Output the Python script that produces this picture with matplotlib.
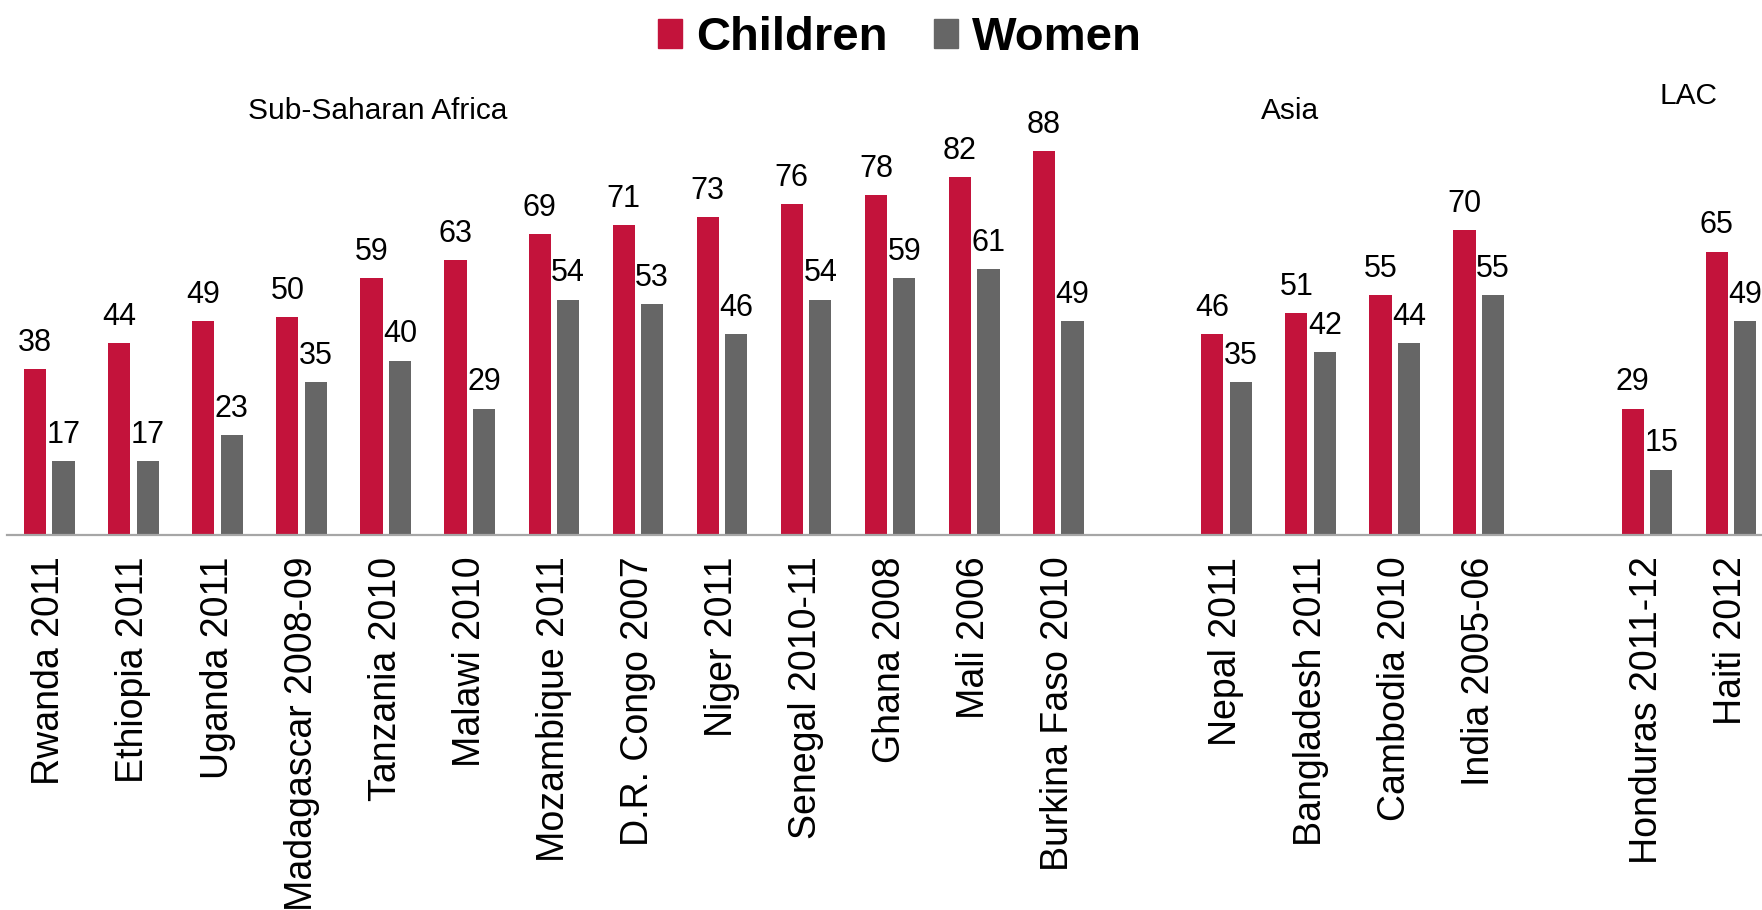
import matplotlib
matplotlib.use("Agg")
import matplotlib.pyplot as plt
from matplotlib.patches import Patch

plt.rcParams['font.family'] = ['Liberation Sans', 'DejaVu Sans']

# ---- data ----
regions = ["Sub-Saharan Africa", "Asia", "LAC"]
countries_ssa = ["Rwanda 2011", "Ethiopia 2011", "Uganda 2011", "Madagascar 2008-09",
                 "Tanzania 2010", "Malawi 2010", "Mozambique 2011", "D.R. Congo 2007",
                 "Niger 2011", "Senegal 2010-11", "Ghana 2008", "Mali 2006",
                 "Burkina Faso 2010"]
countries_asia = ["Nepal 2011", "Bangladesh 2011", "Cambodia 2010", "India 2005-06"]
countries_lac = ["Honduras 2011-12", "Haiti 2012"]

children_ssa = [38, 44, 49, 50, 59, 63, 69, 71, 73, 76, 78, 82, 88]
women_ssa = [17, 17, 23, 35, 40, 29, 54, 53, 46, 54, 59, 61, 49]
children_asia = [46, 51, 55, 70]
women_asia = [35, 42, 44, 55]
children_lac = [29, 65]
women_lac = [15, 49]

series_names = ["Children", "Women"]

# ---- layout ----
C_RED = "#C3133B"
C_GRAY = "#666666"

groups = [(countries_ssa, children_ssa, women_ssa),
          (countries_asia, children_asia, women_asia),
          (countries_lac, children_lac, women_lac)]

positions, labels, child_vals, women_vals = [], [], [], []
slot = 0
for names, cv, wv in groups:
    for n, c, w in zip(names, cv, wv):
        positions.append(slot)
        labels.append(n)
        child_vals.append(c)
        women_vals.append(w)
        slot += 1
    slot += 1  # empty slot between regions

W = 1762
H = 910
fig = plt.figure(figsize=(W / 100, H / 100), dpi=100)
slot_px = 84.08
px_per_unit = 4.36
left_px = 7.3
base_px = 535
ax = fig.add_axes([left_px / W, (H - base_px) / H, 21 * slot_px / W, 100 * px_per_unit / H])

bw = 0.264
off = 0.169
xs_c = [p - off for p in positions]
xs_w = [p + off for p in positions]
b1 = ax.bar(xs_c, child_vals, width=bw, color=C_RED, label=series_names[0])
b2 = ax.bar(xs_w, women_vals, width=bw, color=C_GRAY, label=series_names[1])
ax.bar_label(b1, padding=8, fontsize=22, color="black", clip_on=False)
ax.bar_label(b2, padding=8, fontsize=22, color="black", clip_on=False)

ax.set_xlim(-0.5, 20.5)
ax.set_ylim(0, 100)
ax.set_xticks(positions)
ax.set_xticklabels(labels, rotation=90, fontsize=27)
ax.tick_params(axis='x', length=0, pad=15.5)
ax.set_yticks([])
for s in ["top", "left", "right"]:
    ax.spines[s].set_visible(False)
ax.spines["bottom"].set_color("#A6A6A6")
ax.spines["bottom"].set_linewidth(1.6)

# region labels
region_xy = [(3.91, 97.3), (14.76, 97.3), (19.50, 100.6)]
for name, (x, y) in zip(regions, region_xy):
    ax.text(x, y, name, ha="center", va="center", fontsize=21.5, clip_on=False)

handles = [Patch(color=C_RED), Patch(color=C_GRAY)]
leg = fig.legend(handles, series_names, loc="center", bbox_to_anchor=(900 / W, 1 - 38 / H),
                 ncol=2, frameon=False, prop={"weight": "bold", "size": 34},
                 handlelength=0.5, handleheight=0.55, handletextpad=0.3,
                 columnspacing=1.0, borderpad=0, borderaxespad=0)

fig.savefig("out.png", dpi=100)
